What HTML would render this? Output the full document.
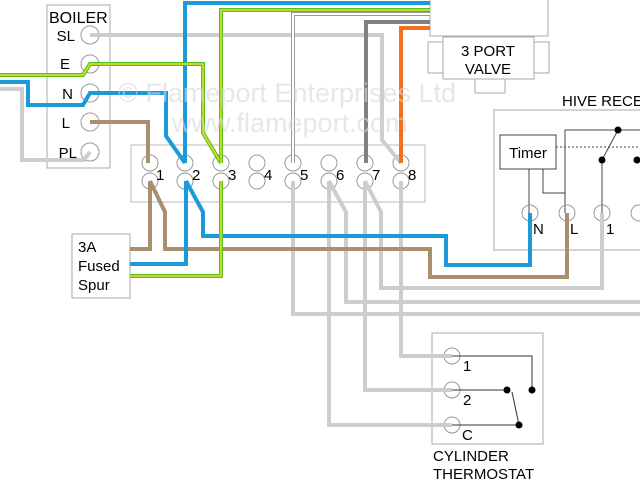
<!DOCTYPE html>
<html><head><style>
html,body{margin:0;padding:0;background:#fff;width:640px;height:480px;overflow:hidden}
svg{display:block;font-family:"Liberation Sans",sans-serif}
</style></head><body>
<svg width="640" height="480" viewBox="0 0 640 480" xmlns="http://www.w3.org/2000/svg">

<!-- boiler -->
<rect x="47" y="5" width="63" height="163" fill="none" stroke="#aaa" stroke-width="1"/>
<text x="49" y="23" font-size="16" fill="#000">BOILER</text>
<g font-size="15" fill="#000" text-anchor="end">
<text x="75" y="41">SL</text><text x="70" y="69">E</text><text x="73" y="99">N</text><text x="70" y="128">L</text><text x="77" y="158">PL</text>
</g>
<g fill="#fff" stroke="#999" stroke-width="1">
<circle cx="90" cy="35" r="9"/><circle cx="90" cy="64" r="9"/><circle cx="90" cy="93" r="9"/><circle cx="90" cy="122" r="9"/><circle cx="90" cy="152" r="9"/>
</g>

<!-- terminal strip -->
<rect x="131" y="145" width="294" height="57" fill="none" stroke="#bbb" stroke-width="1"/>
<g fill="#fff" stroke="#999" stroke-width="1">
<circle cx="150" cy="163" r="8"/><circle cx="150" cy="181" r="8"/>
<circle cx="185" cy="163" r="8"/><circle cx="185" cy="181" r="8"/>
<circle cx="221" cy="163" r="8"/><circle cx="221" cy="181" r="8"/>
<circle cx="257" cy="163" r="8"/><circle cx="257" cy="181" r="8"/>
<circle cx="293" cy="163" r="8"/><circle cx="293" cy="181" r="8"/>
<circle cx="329" cy="163" r="8"/><circle cx="329" cy="181" r="8"/>
<circle cx="365" cy="163" r="8"/><circle cx="365" cy="181" r="8"/>
<circle cx="401" cy="163" r="8"/><circle cx="401" cy="181" r="8"/>
</g>
<g font-size="15" fill="#000">
<text x="156" y="180">1</text><text x="192" y="180">2</text><text x="228" y="180">3</text><text x="264" y="180">4</text>
<text x="300" y="180">5</text><text x="336" y="180">6</text><text x="372" y="180">7</text><text x="408" y="180">8</text>
</g>

<!-- spur -->
<rect x="72" y="234" width="58" height="64" fill="#fff" stroke="#aaa" stroke-width="1"/>
<g font-size="15" fill="#000"><text x="78" y="252">3A</text><text x="78" y="271">Fused</text><text x="78" y="290">Spur</text></g>

<!-- valve -->
<rect x="430" y="-2" width="118" height="38" fill="#fff" stroke="#aaa"/>
<rect x="428" y="42" width="15" height="31" fill="#fff" stroke="#aaa"/>
<rect x="534" y="42" width="15" height="31" fill="#fff" stroke="#aaa"/>
<rect x="475" y="79" width="30" height="14" fill="#fff" stroke="#aaa"/>
<rect x="443" y="37" width="91" height="42" fill="#fff" stroke="#aaa"/>
<text x="488" y="56" font-size="15" text-anchor="middle">3 PORT</text>
<text x="488" y="74" font-size="15" text-anchor="middle">VALVE</text>

<!-- hive -->
<text x="562" y="106" font-size="15">HIVE RECEIVER</text>
<rect x="494" y="110" width="160" height="140" fill="none" stroke="#aaa"/>
<rect x="500" y="135" width="56" height="34" fill="#fff" stroke="#444"/>
<text x="528" y="158" font-size="15" text-anchor="middle">Timer</text>
<g stroke="#444" stroke-width="1" fill="none">
<path d="M529 169V213"/><path d="M543 169V193H565"/><path d="M565 213V130H640"/>
<path d="M618 130L602 160V213"/>
<path d="M556 147H640" stroke-dasharray="2,2"/>
</g>
<g fill="#000"><circle cx="618" cy="130" r="3.5"/><circle cx="602" cy="160" r="3.5"/><circle cx="637" cy="160" r="3.5"/></g>
<g fill="none" stroke="#999"><circle cx="530" cy="213" r="8"/><circle cx="567" cy="213" r="8"/><circle cx="602" cy="213" r="8"/><circle cx="639" cy="213" r="8"/></g>
<g font-size="15"><text x="533" y="234">N</text><text x="570" y="234">L</text><text x="606" y="234">1</text></g>

<!-- cylinder thermostat -->
<rect x="432" y="333" width="111" height="111" fill="none" stroke="#aaa"/>
<g fill="none" stroke="#999"><circle cx="452" cy="356" r="8"/><circle cx="452" cy="390" r="8"/><circle cx="452" cy="425" r="8"/></g>
<g font-size="15"><text x="463" y="371">1</text><text x="463" y="405">2</text><text x="462" y="440">C</text></g>
<g stroke="#333" fill="none" stroke-width="1">
<path d="M452 356H532V390"/><path d="M452 390H507"/><path d="M452 425H519"/><path d="M512 392L519 425"/>
</g>
<g fill="#000"><circle cx="532" cy="390" r="3.5"/><circle cx="507" cy="390" r="3.5"/><circle cx="519" cy="425" r="3.5"/></g>
<text x="433" y="461" font-size="15">CYLINDER</text>
<text x="433" y="479" font-size="15">THERMOSTAT</text>

<!-- wires -->
<g fill="none" stroke-width="4" stroke-linejoin="miter">
<g stroke="#cdcdcd">
<path d="M0 89H22V160H84L90 152"/>
<path d="M90 35H382V140L401 163"/>
<path d="M293 181V314H640"/>
<path d="M329 181L346 212V302H640"/>
<path d="M329 181V425H452"/>
<path d="M365 181L381 212V288H602V213"/>
<path d="M365 181V390H452"/>
<path d="M401 181V356H452"/>
</g>
<path d="M293 163V14H430" stroke="#999" stroke-width="4"/>
<path d="M293 163V14H430" stroke="#fff" stroke-width="2"/>
<path d="M430 22H366V163" stroke="#808080"/>
<path d="M430 28H401V163" stroke="#f07020"/>
<g stroke="#a8906e">
<path d="M90 122H148V163"/>
<path d="M150 181V249H130"/>
<path d="M150 181L165 212V249H430V277H567V213"/>
</g>
<g stroke="#1a9ad8">
<path d="M0 82H28V105H83L90 93H166V136L185 163"/>
<path d="M185 163V3H430"/>
<path d="M186 181V264H130"/>
<path d="M186 181L203 212V236H446V265H530V213"/>
</g>
<g>
<path d="M0 75H83L90 64H203V133L221 163" stroke="#5ac020"/>
<path d="M0 75H83L90 64H203V133L221 163" stroke="#e8e030" stroke-width="1.5"/>
<path d="M221 163V10H430" stroke="#5ac020"/>
<path d="M221 163V10H430" stroke="#e8e030" stroke-width="1.5"/>
<path d="M221 181V276H130" stroke="#5ac020"/>
<path d="M221 181V276H130" stroke="#e8e030" stroke-width="1.5"/>
</g>
</g>

<!-- watermark on top -->
<g fill="#d8d8d8" opacity="0.6">
<text x="118" y="102" font-size="27">© Flameport Enterprises Ltd</text>
<text x="172" y="132" font-size="27">www.flameport.com</text>
</g>
</svg>
</body></html>
